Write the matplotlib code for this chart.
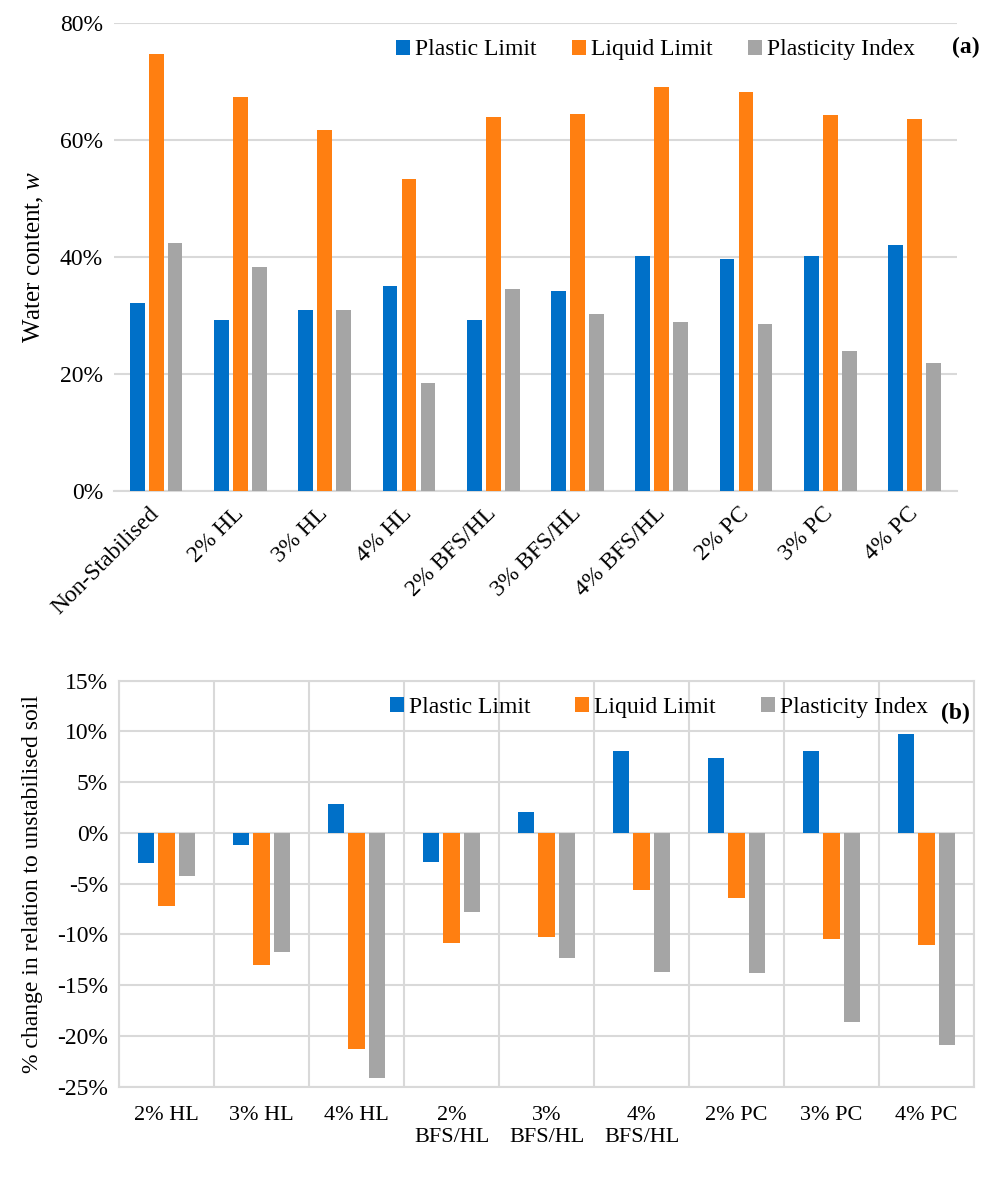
import numpy as np
import matplotlib
matplotlib.use("Agg")
import matplotlib.pyplot as plt
from matplotlib.ticker import FuncFormatter, MultipleLocator, FixedLocator

plt.rcParams['font.family'] = ['Liberation Serif', 'DejaVu Serif']
plt.rcParams['mathtext.fontset'] = 'custom'
plt.rcParams['mathtext.rm'] = 'Liberation Serif'
plt.rcParams['mathtext.it'] = 'Liberation Serif:italic'

# (a) water content
cats_a = ["Non-Stabilised", "2% HL", "3% HL", "4% HL", "2% BFS/HL", "3% BFS/HL",
          "4% BFS/HL", "2% PC", "3% PC", "4% PC"]
plastic_a = [32.1, 29.2, 30.9, 35.0, 29.2, 34.2, 40.2, 39.6, 40.2, 42.1]
liquid_a = [74.7, 67.3, 61.7, 53.4, 63.9, 64.4, 69.0, 68.2, 64.2, 63.6]
pindex_a = [42.4, 38.3, 30.9, 18.4, 34.6, 30.3, 28.8, 28.5, 24.0, 21.8]

# (b) % change vs unstabilised soil
cats_b = ["2% HL", "3% HL", "4% HL", "2%\nBFS/HL", "3%\nBFS/HL", "4%\nBFS/HL",
          "2% PC", "3% PC", "4% PC"]
plastic_b = [-3.0, -1.2, 2.9, -2.9, 2.1, 8.1, 7.4, 8.1, 9.8]
liquid_b = [-7.2, -13.0, -21.3, -10.8, -10.2, -5.6, -6.4, -10.4, -11.0]
pindex_b = [-4.2, -11.7, -24.1, -7.8, -12.3, -13.7, -13.8, -18.6, -20.9]

series = ["Plastic Limit", "Liquid Limit", "Plasticity Index"]
colors = ["#0070C8", "#FF7F11", "#A5A5A5"]
grid_c = "#D9D9D9"
pct = FuncFormatter(lambda v, p: f"{v:.0f}%")

fig = plt.figure(figsize=(9.96, 11.81), dpi=100)

# ---- top chart
ax1 = fig.add_axes([0.1145, 0.5843, 0.846, 0.3963])
x = np.arange(len(cats_a))
w, step = 0.174, 0.225
for i, vals in enumerate([plastic_a, liquid_a, pindex_a]):
    ax1.bar(x + (i - 1) * step, vals, w, color=colors[i], label=series[i], zorder=3)
ax1.set_xlim(-0.5, len(cats_a) - 0.5)
ax1.set_ylim(0, 80)
ax1.yaxis.set_major_locator(MultipleLocator(20))
ax1.yaxis.set_major_formatter(pct)
ax1.grid(axis='y', color=grid_c, lw=1.5, zorder=0)
ax1.set_axisbelow(True)
for s in ['left', 'right', 'top']:
    ax1.spines[s].set_visible(False)
ax1.spines['bottom'].set_color(grid_c)
ax1.spines['bottom'].set_linewidth(1.5)
ax1.tick_params(length=0, labelsize=17, pad=8)
ax1.set_xticks(x)
ax1.set_xticklabels(cats_a, rotation=45, ha='right', va='center', rotation_mode='anchor')
ax1.tick_params(axis='x', pad=14)
ax1.set_ylabel("Water content, $\\mathit{w}$", fontsize=18, labelpad=10)
ax1.legend(loc='upper right', bbox_to_anchor=(0.97, 1.0), ncol=3, frameon=False,
           fontsize=17, handlelength=0.6, handleheight=0.6, handletextpad=0.2,
           columnspacing=1.5, borderaxespad=0.3)
ax1.text(0.995, 0.948, "(a)", transform=ax1.transAxes, fontsize=17,
         fontweight='bold', ha='left', va='center')

# ---- bottom chart
ax2 = fig.add_axes([0.1195, 0.0798, 0.8584, 0.3438])
xb = np.arange(len(cats_b))
w2, step2 = 0.17, 0.22
for i, vals in enumerate([plastic_b, liquid_b, pindex_b]):
    ax2.bar(xb + (i - 1) * step2, vals, w2, color=colors[i], label=series[i], zorder=3)
ax2.set_xlim(-0.5, len(cats_b) - 0.5)
ax2.set_ylim(-25, 15)
ax2.yaxis.set_major_locator(MultipleLocator(5))
ax2.yaxis.set_major_formatter(pct)
ax2.set_xticks(xb)
ax2.set_xticklabels(cats_b, va='top', linespacing=1.2)
ax2.xaxis.set_minor_locator(FixedLocator(np.arange(len(cats_b) + 1) - 0.5))
ax2.grid(axis='y', which='major', color=grid_c, lw=1.5, zorder=0)
ax2.grid(axis='x', which='minor', color=grid_c, lw=1.5, zorder=0)
ax2.set_axisbelow(True)
for s in ax2.spines.values():
    s.set_color(grid_c)
    s.set_linewidth(1.5)
ax2.tick_params(which='both', length=0)
ax2.tick_params(axis='y', labelsize=17, pad=8)
ax2.tick_params(axis='x', labelsize=16, pad=14)
ax2.set_ylabel("% change in relation to unstabilised soil", fontsize=17, labelpad=10)
ax2.legend(loc='upper right', bbox_to_anchor=(0.965, 1.0), ncol=3, frameon=False,
           fontsize=17, handlelength=0.6, handleheight=0.6, handletextpad=0.2,
           columnspacing=1.9, borderaxespad=0.3)
ax2.text(0.995, 0.92, "(b)", transform=ax2.transAxes, fontsize=17,
         fontweight='bold', ha='right', va='center')

fig.savefig("out.png", dpi=100)
